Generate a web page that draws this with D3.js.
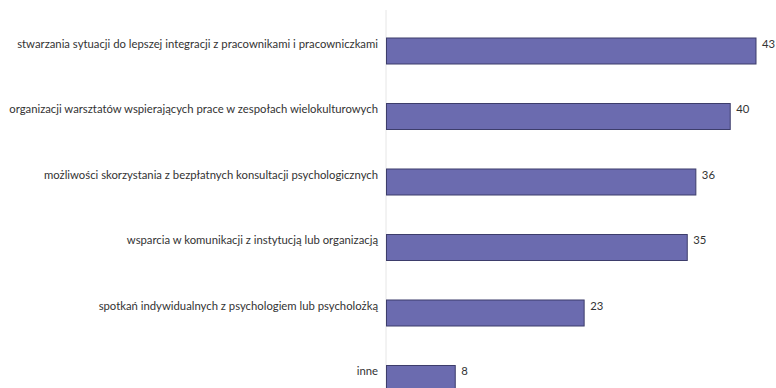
<!DOCTYPE html>
<html>
<head>
<meta charset="utf-8">
<script src="https://cdn.jsdelivr.net/npm/d3@7"></script>
<style>
  html, body { margin: 0; padding: 0; background: #fff; }
  svg { display: block; }
  text { font-family: "Lato", "Open Sans", sans-serif; fill: #333; }
</style>
</head>
<body>
<script>
// Survey answers and their counts
const categories = [
  "stwarzania sytuacji do lepszej integracji z pracownikami i pracowniczkami",
  "organizacji warsztatów wspierających prace w zespołach wielokulturowych",
  "możliwości skorzystania z bezpłatnych konsultacji psychologicznych",
  "wsparcia w komunikacji z instytucją lub organizacją",
  "spotkań indywidualnych z psychologiem lub psycholożką",
  "inne"
];
const values = [43, 40, 36, 35, 23, 8];

const width = 776, height = 388;
const x0 = 386.5;

const svg = d3.select("body").append("svg")
  .attr("width", width).attr("height", height);

const x = d3.scaleLinear().domain([0, 43]).range([x0, 756]);
const y = d3.scaleBand().domain(categories)
  .range([38, 391.5]).paddingInner(0.603).paddingOuter(0);

// baseline
svg.append("line")
  .attr("x1", x0 - 0.5).attr("x2", x0 - 0.5)
  .attr("y1", 10).attr("y2", height)
  .attr("stroke", "#e6e6e6").attr("stroke-width", 1);

const rows = svg.selectAll("g.row").data(categories.map((c, i) => ({c, v: values[i]})))
  .enter().append("g").attr("class", "row");

rows.append("rect")
  .attr("x", x(0))
  .attr("y", d => y(d.c))
  .attr("width", d => x(d.v) - x(0))
  .attr("height", y.bandwidth())
  .attr("fill", "#6b6baf")
  .attr("stroke", "#3d3d6b")
  .attr("stroke-width", 1);

rows.append("text")
  .attr("x", 378)
  .attr("y", d => y(d.c) + 6)
  .attr("dy", "0.35em")
  .attr("text-anchor", "end")
  .attr("font-size", 11.3)
  .text(d => d.c);

rows.append("text")
  .attr("x", d => x(d.v) + 6)
  .attr("y", d => y(d.c) + 6)
  .attr("dy", "0.35em")
  .attr("font-size", 11.3)
  .text(d => d.v);
</script>
</body>
</html>
